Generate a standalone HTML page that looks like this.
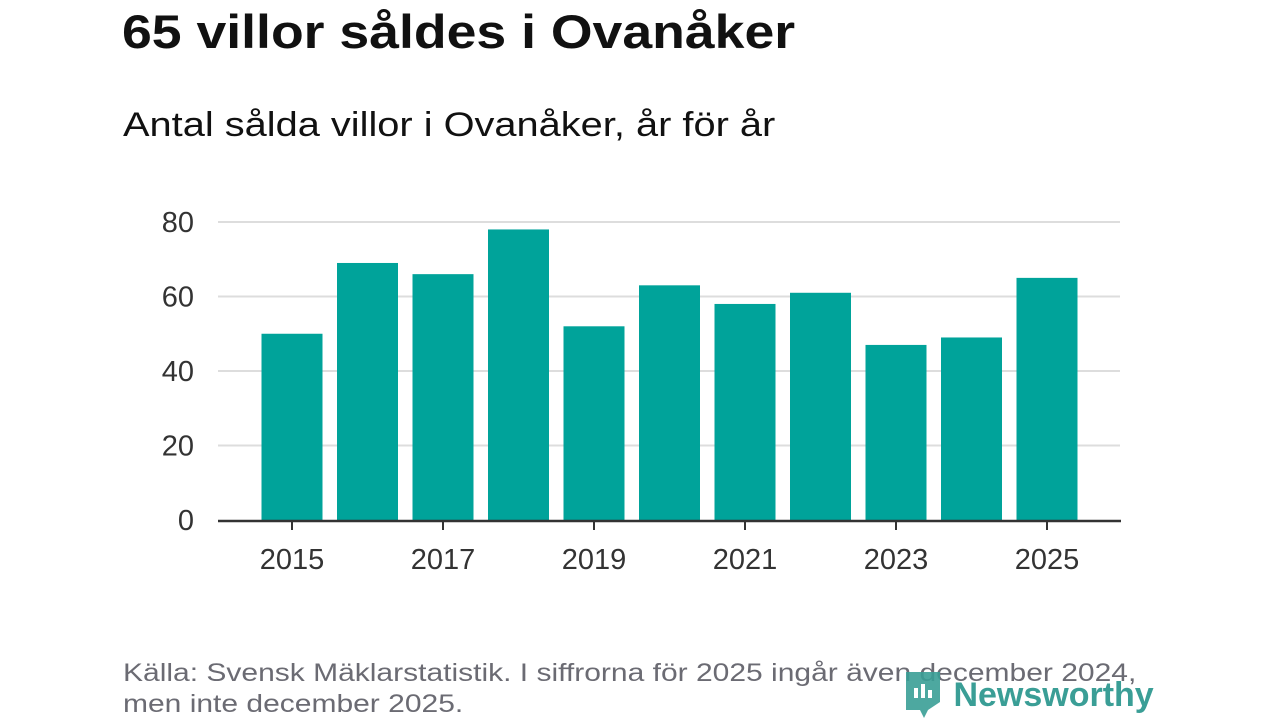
<!DOCTYPE html>
<html><head><meta charset="utf-8"><style>
body{margin:0;width:1280px;height:720px;background:#fff;font-family:"Liberation Sans",sans-serif;position:relative;overflow:hidden}
.t{position:absolute;white-space:nowrap;transform-origin:0 0}
</style></head><body>
<div class="t" style="left:122px;top:4px;font-size:47px;font-weight:bold;color:#111;transform:scaleX(1.14)">65 villor såldes i Ovanåker</div>
<div class="t" style="left:123px;top:106px;font-size:34px;color:#111;transform:scaleX(1.17)">Antal sålda villor i Ovanåker, år för år</div>
<svg id="c" width="1280" height="720" style="position:absolute;left:0;top:0"></svg>
<div class="t" style="left:123px;top:658px;font-size:25px;line-height:31px;color:#6b6b73;transform:scaleX(1.2)">Källa: Svensk Mäklarstatistik. I siffrorna för 2025 ingår även december 2024,<br>men inte december 2025.</div>
<div class="t" style="left:904px;top:670px;font-size:34px;font-weight:bold;color:#3a9e96">
<svg width="40" height="48" style="vertical-align:-12px"><path d="M2 2h34v30l-12 8-4 8-4-8H2z" fill="#3a9e96" opacity="0.9"/><rect x="10" y="18" width="4" height="10" fill="#fff"/><rect x="17" y="14" width="4" height="14" fill="#fff"/><rect x="24" y="20" width="4" height="8" fill="#fff"/></svg> Newsworthy</div>
<script>
const years=[2015,2016,2017,2018,2019,2020,2021,2022,2023,2024,2025];
const values=[50,69,66,78,52,63,58,61,47,49,65];
const yTicks=[0,20,40,60,80];
const xLabels=[2015,2017,2019,2021,2023,2025];
const svg=document.getElementById('c');const NS='http://www.w3.org/2000/svg';
const y=v=>520-v*3.725;const x=i=>292+i*75.5;
function mk(t,a){const e=document.createElementNS(NS,t);for(const k in a)e.setAttribute(k,a[k]);svg.appendChild(e);return e;}
yTicks.forEach(v=>{
 if(v>0){const l=mk('line',{x1:218,x2:1120,y1:y(v),y2:y(v),stroke:'#ddd','stroke-width':2});
 
 }
 const t=mk('text',{x:194,y:y(v)+10,'text-anchor':'end','font-size':29,fill:'#333','font-family':'Liberation Sans, sans-serif'});t.textContent=v;
 
 
});
values.forEach((v,i)=>{const r=mk('rect',{x:x(i)-30.5,y:y(v),width:61,height:520-y(v),fill:'#00a39a'});
 
 });
const ax=mk('line',{x1:218,x2:1121,y1:521,y2:521,stroke:'#333','stroke-width':2.5});


xLabels.forEach(yr=>{const i=years.indexOf(yr);
 const tk=mk('line',{x1:x(i),x2:x(i),y1:521,y2:530,stroke:'#333','stroke-width':2});
 
 
 const t=mk('text',{x:x(i),y:569,'text-anchor':'middle','font-size':29,fill:'#333','font-family':'Liberation Sans, sans-serif'});t.textContent=yr;
 
 });
</script>
</body></html>
